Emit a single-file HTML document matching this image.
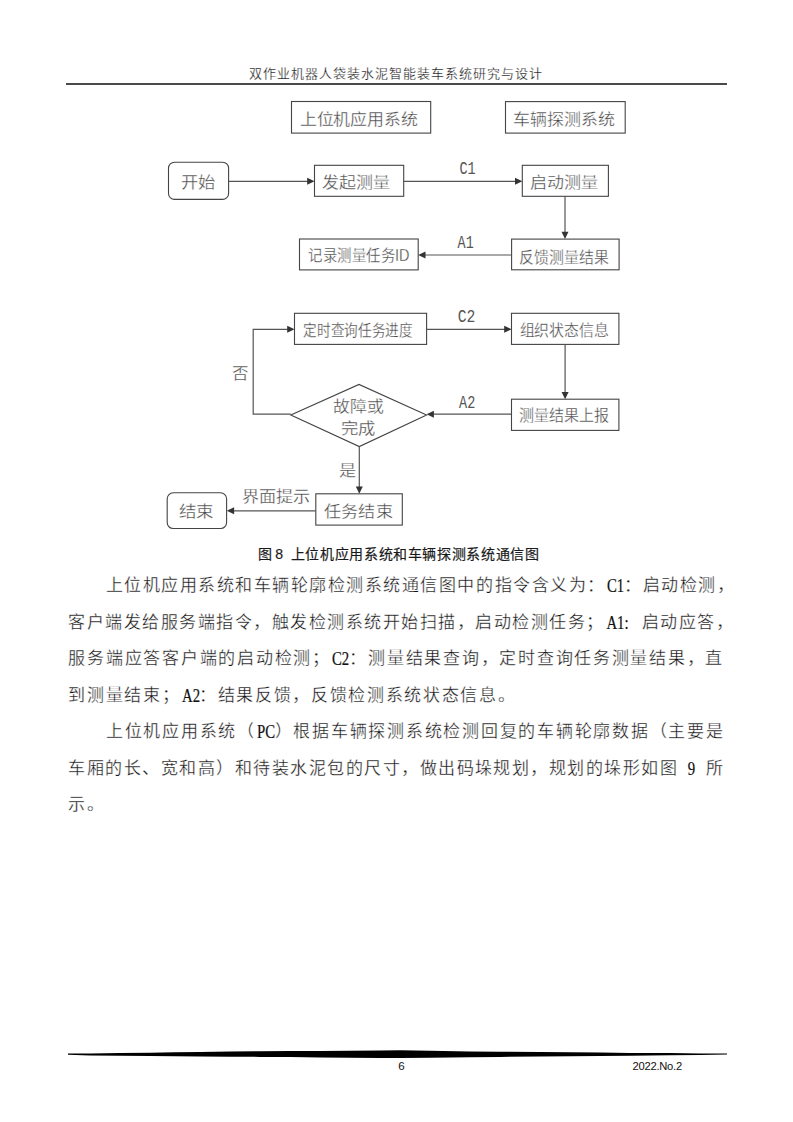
<!DOCTYPE html>
<html lang="zh-CN"><head><meta charset="utf-8">
<style>
html,body{margin:0;padding:0;background:#fff;}
body{width:793px;height:1122px;position:relative;overflow:hidden;font-family:"Liberation Serif",serif;color:#262626;}
.hd{position:absolute;left:249.3px;top:64.5px;font-size:13px;line-height:18px;white-space:nowrap;color:#111;-webkit-text-stroke:0.25px #fff;}
.hd b{display:inline-block;width:14px;font-weight:normal;}
.cj b{display:inline-block;width:14.63px;font-weight:500;}
.hl{position:absolute;left:66px;top:83.2px;width:661px;height:1.6px;background:#4a4a4a;}
.ln{position:absolute;height:36px;display:flex;align-items:center;white-space:nowrap;font-size:18.67px;line-height:36px;}
.ln span{flex:0 1 auto;min-width:0;display:block;}
.ln .c{width:18.67px;flex-basis:18.67px;}
.ln .a{text-align:left;font-size:18px;color:#111;-webkit-text-stroke:0.2px #111;}
.ln .a i{font-style:normal;display:inline-block;transform:scaleX(.82);}
.ln .c{font-size:17px;text-align:center;color:#111;-webkit-text-stroke:0.3px #fff;}
svg{position:absolute;left:0;top:0;}
.bx{fill:none;stroke:#444;stroke-width:1.1;}
.ln2{fill:none;stroke:#555;stroke-width:1.2;}
.ah{fill:#333;stroke:none;}
.t{font-family:"Liberation Sans",sans-serif;font-size:16px;fill:#444;stroke:#fff;stroke-width:0.3px;}
.m{font-family:"Liberation Mono",monospace;font-size:17.5px;fill:#555;}
.cap{position:absolute;left:258px;top:541.8px;font-family:"Liberation Sans",sans-serif;font-size:14px;font-weight:500;line-height:24px;white-space:nowrap;color:#1a1a1a;-webkit-text-stroke:0.2px #1a1a1a;}
.pg{position:absolute;left:398.3px;top:1060px;font-family:"Liberation Sans",sans-serif;font-size:11.5px;color:#111;}
.yr{position:absolute;left:632.5px;top:1060px;font-family:"Liberation Sans",sans-serif;font-size:11.2px;letter-spacing:-0.25px;color:#111;}
</style></head><body>
<div class="hd"><b>双</b><b>作</b><b>业</b><b>机</b><b>器</b><b>人</b><b>袋</b><b>装</b><b>水</b><b>泥</b><b>智</b><b>能</b><b>装</b><b>车</b><b>系</b><b>统</b><b>研</b><b>究</b><b>与</b><b>设</b><b>计</b></div>
<div class="hl"></div>
<svg width="793" height="1122" viewBox="0 0 793 1122">
<rect x="291.5" y="101.5" width="139.2" height="31.6" rx="0" class="bx"/><rect x="505.5" y="101.6" width="119.7" height="31.5" rx="0" class="bx"/><rect x="168.5" y="162.2" width="60.1" height="37.2" rx="6" class="bx"/><rect x="314.5" y="165.3" width="89.2" height="31.0" rx="0" class="bx"/><rect x="522.3" y="165.3" width="86.1" height="31.0" rx="0" class="bx"/><rect x="299.5" y="239.0" width="118.7" height="30.9" rx="0" class="bx"/><rect x="511.6" y="239.1" width="107.5" height="30.7" rx="0" class="bx"/><rect x="294.5" y="313.3" width="132.1" height="31.1" rx="0" class="bx"/><rect x="511.5" y="313.3" width="107.4" height="31.1" rx="0" class="bx"/><rect x="511.5" y="399.2" width="107.4" height="31.2" rx="0" class="bx"/><rect x="315.8" y="493.8" width="86.5" height="31.3" rx="0" class="bx"/><rect x="167.2" y="492.8" width="59.4" height="35.7" rx="6" class="bx"/><polygon points="290.8,415.0 359.0,384.4 426.6,415.0 359.3,446.6" class="bx"/><polyline points="228.6,181.3 308.0,181.3" class="ln2"/><polygon points="314.5,181.3 307.2,177.8 307.2,184.8" class="ah"/><polyline points="403.7,181.3 516.0,181.3" class="ln2"/><polygon points="522.3,181.3 515.0,177.8 515.0,184.8" class="ah"/><polyline points="565.0,196.3 565.0,233.0" class="ln2"/><polygon points="565.0,239.0 561.5,231.7 568.5,231.7" class="ah"/><polyline points="511.6,255.0 424.0,255.0" class="ln2"/><polygon points="418.2,255.0 425.5,251.5 425.5,258.5" class="ah"/><polyline points="426.6,329.3 505.0,329.3" class="ln2"/><polygon points="511.5,329.3 504.2,325.8 504.2,332.8" class="ah"/><polyline points="565.1,344.4 565.1,393.0" class="ln2"/><polygon points="565.1,399.2 561.6,391.9 568.6,391.9" class="ah"/><polyline points="511.5,414.2 432.0,414.2" class="ln2"/><polygon points="426.6,414.2 433.9,410.7 433.9,417.7" class="ah"/><polyline points="290.8,414.2 253.2,414.2 253.2,329.3 288.0,329.3" class="ln2"/><polygon points="294.5,329.3 287.2,325.8 287.2,332.8" class="ah"/><polyline points="359.3,446.6 359.3,487.0" class="ln2"/><polygon points="359.3,493.8 355.8,486.5 362.8,486.5" class="ah"/><polyline points="315.8,510.8 233.0,510.8" class="ln2"/><polygon points="226.8,510.8 234.1,507.3 234.1,514.3" class="ah"/><text x="299.7" y="125.0" textLength="118.2" lengthAdjust="spacingAndGlyphs" class="t">上位机应用系统</text><text x="513.1" y="125.0" textLength="101.8" lengthAdjust="spacingAndGlyphs" class="t">车辆探测系统</text><text x="180.9" y="188.2" textLength="34.5" lengthAdjust="spacingAndGlyphs" class="t">开始</text><text x="322.3" y="187.8" textLength="67.8" lengthAdjust="spacingAndGlyphs" class="t">发起测量</text><text x="529.9" y="187.8" textLength="68.0" lengthAdjust="spacingAndGlyphs" class="t">启动测量</text><text x="308.4" y="261.2" textLength="101.0" lengthAdjust="spacingAndGlyphs" class="t">记录测量任务ID</text><text x="519.3" y="262.6" textLength="89.3" lengthAdjust="spacingAndGlyphs" class="t">反馈测量结果</text><text x="303.4" y="336.4" textLength="109.0" lengthAdjust="spacingAndGlyphs" class="t">定时查询任务进度</text><text x="519.5" y="336.4" textLength="89.4" lengthAdjust="spacingAndGlyphs" class="t">组织状态信息</text><text x="519.0" y="421.2" textLength="89.9" lengthAdjust="spacingAndGlyphs" class="t">测量结果上报</text><text x="179.1" y="517.2" textLength="34.8" lengthAdjust="spacingAndGlyphs" class="t">结束</text><text x="324.4" y="517.2" textLength="68.2" lengthAdjust="spacingAndGlyphs" class="t">任务结束</text><text x="333.4" y="411.7" textLength="50.6" lengthAdjust="spacingAndGlyphs" class="t">故障或</text><text x="341.1" y="433.9" textLength="34.6" lengthAdjust="spacingAndGlyphs" class="t">完成</text><text x="231.6" y="379.1" textLength="16.5" lengthAdjust="spacingAndGlyphs" class="t">否</text><text x="338.7" y="475.7" textLength="17.2" lengthAdjust="spacingAndGlyphs" class="t">是</text><text x="241.7" y="501.9" textLength="68.5" lengthAdjust="spacingAndGlyphs" class="t">界面提示</text><text x="459.4" y="174.3" textLength="16.2" lengthAdjust="spacingAndGlyphs" class="m">C1</text><text x="457.6" y="247.5" textLength="16.1" lengthAdjust="spacingAndGlyphs" class="m">A1</text><text x="457.7" y="321.9" textLength="17.6" lengthAdjust="spacingAndGlyphs" class="m">C2</text><text x="459.1" y="408.0" textLength="16.2" lengthAdjust="spacingAndGlyphs" class="m">A2</text>
<polygon points="68,1053.6 90,1053.5 120,1053.0 150,1052.7 175,1052.3 200,1052.0 230,1051.6 260,1051.3 290,1051.1 320,1050.9 350,1050.7 380,1050.4 400,1050.3 430,1050.7 470,1051.4 500,1051.7 540,1052.0 570,1052.3 600,1052.6 630,1052.9 670,1053.1 700,1053.4 727,1053.6 727,1054.6 700,1055.0 670,1055.3 630,1055.7 600,1056.0 570,1056.3 540,1056.6 500,1056.9 470,1057.3 430,1057.8 400,1058.0 380,1058.0 350,1057.7 320,1057.4 290,1057.1 260,1056.9 230,1056.7 200,1056.5 175,1056.3 150,1056.1 120,1055.8 90,1055.6 68,1054.8" fill="#000"/>
</svg>
<div class="cap" style="left:257.8px">图</div><div class="cap" style="left:275.3px;font-family:'Liberation Sans',sans-serif">8</div><div class="cap cj" style="left:290.8px"><b>上</b><b>位</b><b>机</b><b>应</b><b>用</b><b>系</b><b>统</b><b>和</b><b>车</b><b>辆</b><b>探</b><b>测</b><b>系</b><b>统</b><b>通</b><b>信</b><b>图</b></div>
<div class="ln" style="top:568.00px;left:104.94px;width:629.38px;justify-content:space-between"><span class="c">上</span><span class="c">位</span><span class="c">机</span><span class="c">应</span><span class="c">用</span><span class="c">系</span><span class="c">统</span><span class="c">和</span><span class="c">车</span><span class="c">辆</span><span class="c">轮</span><span class="c">廓</span><span class="c">检</span><span class="c">测</span><span class="c">系</span><span class="c">统</span><span class="c">通</span><span class="c">信</span><span class="c">图</span><span class="c">中</span><span class="c">的</span><span class="c">指</span><span class="c">令</span><span class="c">含</span><span class="c">义</span><span class="c">为</span><span class="c">：</span><span class="a" style="flex-basis:18.67px;width:18.67px;text-align:left"><i>C1</i></span><span class="c">：</span><span class="c">启</span><span class="c">动</span><span class="c">检</span><span class="c">测</span><span class="c">，</span></div><div class="ln" style="top:604.55px;left:67.60px;width:666.00px;justify-content:space-between"><span class="c">客</span><span class="c">户</span><span class="c">端</span><span class="c">发</span><span class="c">给</span><span class="c">服</span><span class="c">务</span><span class="c">端</span><span class="c">指</span><span class="c">令</span><span class="c">，</span><span class="c">触</span><span class="c">发</span><span class="c">检</span><span class="c">测</span><span class="c">系</span><span class="c">统</span><span class="c">开</span><span class="c">始</span><span class="c">扫</span><span class="c">描</span><span class="c">，</span><span class="c">启</span><span class="c">动</span><span class="c">检</span><span class="c">测</span><span class="c">任</span><span class="c">务</span><span class="c">；</span><span class="a" style="flex-basis:37.34px;width:37.34px;text-align:left"><i>A1:</i></span><span class="c">启</span><span class="c">动</span><span class="c">应</span><span class="c">答</span><span class="c">，</span></div><div class="ln" style="top:641.10px;left:67.60px;width:656.00px;justify-content:space-between"><span class="c">服</span><span class="c">务</span><span class="c">端</span><span class="c">应</span><span class="c">答</span><span class="c">客</span><span class="c">户</span><span class="c">端</span><span class="c">的</span><span class="c">启</span><span class="c">动</span><span class="c">检</span><span class="c">测</span><span class="c">；</span><span class="a" style="flex-basis:18.67px;width:18.67px;text-align:left"><i>C2</i></span><span class="c">：</span><span class="c">测</span><span class="c">量</span><span class="c">结</span><span class="c">果</span><span class="c">查</span><span class="c">询</span><span class="c">，</span><span class="c">定</span><span class="c">时</span><span class="c">查</span><span class="c">询</span><span class="c">任</span><span class="c">务</span><span class="c">测</span><span class="c">量</span><span class="c">结</span><span class="c">果</span><span class="c">，</span><span class="c">直</span></div><div class="ln" style="top:677.65px;left:67.60px;width:656.00px;justify-content:flex-start"><span class="c">到</span><span class="c">测</span><span class="c">量</span><span class="c">结</span><span class="c">束</span><span class="c">；</span><span class="a" style="flex-basis:18.67px;width:18.67px;text-align:left"><i>A2</i></span><span class="c">：</span><span class="c">结</span><span class="c">果</span><span class="c">反</span><span class="c">馈</span><span class="c">，</span><span class="c">反</span><span class="c">馈</span><span class="c">检</span><span class="c">测</span><span class="c">系</span><span class="c">统</span><span class="c">状</span><span class="c">态</span><span class="c">信</span><span class="c">息</span><span class="c">。</span></div><div class="ln" style="top:714.20px;left:104.94px;width:618.66px;justify-content:space-between"><span class="c">上</span><span class="c">位</span><span class="c">机</span><span class="c">应</span><span class="c">用</span><span class="c">系</span><span class="c">统</span><span class="c">（</span><span class="a" style="flex-basis:18.67px;width:18.67px;text-align:center"><i>PC</i></span><span class="c">）</span><span class="c">根</span><span class="c">据</span><span class="c">车</span><span class="c">辆</span><span class="c">探</span><span class="c">测</span><span class="c">系</span><span class="c">统</span><span class="c">检</span><span class="c">测</span><span class="c">回</span><span class="c">复</span><span class="c">的</span><span class="c">车</span><span class="c">辆</span><span class="c">轮</span><span class="c">廓</span><span class="c">数</span><span class="c">据</span><span class="c">（</span><span class="c">主</span><span class="c">要</span><span class="c">是</span></div><div class="ln" style="top:750.75px;left:67.60px;width:656.00px;justify-content:space-between"><span class="c">车</span><span class="c">厢</span><span class="c">的</span><span class="c">长</span><span class="c">、</span><span class="c">宽</span><span class="c">和</span><span class="c">高</span><span class="c">）</span><span class="c">和</span><span class="c">待</span><span class="c">装</span><span class="c">水</span><span class="c">泥</span><span class="c">包</span><span class="c">的</span><span class="c">尺</span><span class="c">寸</span><span class="c">，</span><span class="c">做</span><span class="c">出</span><span class="c">码</span><span class="c">垛</span><span class="c">规</span><span class="c">划</span><span class="c">，</span><span class="c">规</span><span class="c">划</span><span class="c">的</span><span class="c">垛</span><span class="c">形</span><span class="c">如</span><span class="c">图</span><span class="a" style="flex-basis:28.01px;width:28.01px;text-align:center"><i>9</i></span><span class="c">所</span></div><div class="ln" style="top:787.30px;left:67.60px;width:656.00px;justify-content:flex-start"><span class="c">示</span><span class="c">。</span></div>
<div class="pg">6</div>
<div class="yr">2022.No.2</div>
</body></html>
